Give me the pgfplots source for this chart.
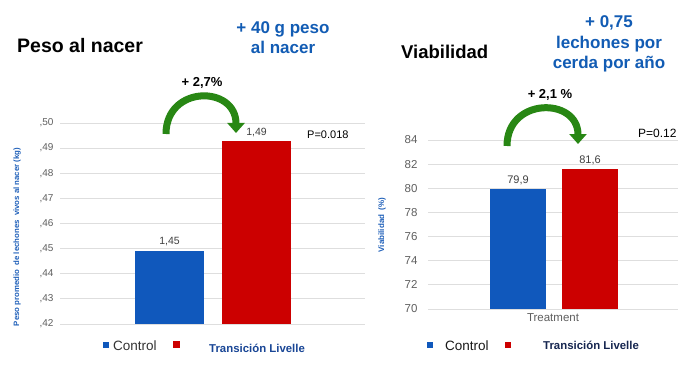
\documentclass[border=0pt]{standalone}
\usepackage{pgfplots}
\pgfplotsset{compat=1.18}
\usepackage{fontspec}
\setmainfont{Liberation Sans}
\usetikzlibrary{arrows.meta}
\definecolor{barblue}{RGB}{16,88,188}
\definecolor{barred}{RGB}{204,0,0}
\definecolor{titleblue}{RGB}{18,92,180}
\definecolor{labblue}{RGB}{30,95,185}
\definecolor{legblue}{RGB}{25,70,150}
\definecolor{legnavy}{RGB}{22,38,80}
\definecolor{arrgreen}{RGB}{40,135,20}
\definecolor{tickgray}{RGB}{95,95,95}
\definecolor{gridgray}{RGB}{222,222,222}
\newcommand\fs[1]{\fontsize{#1}{#1}\selectfont}
\begin{document}
\begin{tikzpicture}[x=1pt,y=1pt]
\fill[white] (0,0) rectangle (700,370);
% ---------- left chart ----------
\begin{axis}[
  at={(60pt,46pt)}, anchor=south west,
  scale only axis, width=305pt, height=201pt,
  xmin=60, xmax=365, ymin=0.42, ymax=0.50,
  axis line style={draw=none},
  ymajorgrids, grid style={gridgray, line width=0.8pt},
  ytick={0.42,0.43,0.44,0.45,0.46,0.47,0.48,0.49,0.50},
  yticklabels={{,42},{,43},{,44},{,45},{,46},{,47},{,48},{,49},{,50}},
  yticklabel style={font=\fs{10}, text=tickgray, xshift=-3pt},
  /pgf/number format/assume math mode=true,
  xtick=\empty, major tick length=0pt,
  ybar, bar width=69pt, bar shift=0pt,
  nodes near coords, point meta=explicit symbolic,
  nodes near coords style={font=\fs{10.5}, text=black!75, yshift=1pt},
  clip=false,
]
\addplot[fill=barblue, draw=none] coordinates {(169.5,0.4492) [1,45]};
\addplot[fill=barred, draw=none] coordinates {(256.5,0.4928) [1,49]};
\end{axis}
% ---------- right chart ----------
\begin{axis}[
  at={(428pt,61pt)}, anchor=south west,
  scale only axis, width=250pt, height=169pt,
  xmin=428, xmax=678, ymin=70, ymax=84,
  axis line style={draw=none},
  ymajorgrids, grid style={gridgray, line width=0.8pt},
  ytick={70,72,74,76,78,80,82,84},
  yticklabel style={font=\fs{11.5}, text=tickgray, xshift=-7pt},
  /pgf/number format/assume math mode=true,
  xtick=\empty, major tick length=0pt,
  xlabel={Treatment},
  xlabel style={font=\fs{11.5}, text=tickgray, at={(axis description cs:0.5,0)}, anchor=north, yshift=-1pt},
  ybar, bar width=56pt, bar shift=0pt,
  nodes near coords, point meta=explicit symbolic,
  nodes near coords style={font=\fs{11}, text=black!75, yshift=1pt},
  clip=false,
]
\addplot[fill=barblue, draw=none] coordinates {(518,79.9) [79,9]};
\addplot[fill=barred, draw=none] coordinates {(590,81.6) [81,6]};
\end{axis}
% ---------- titles ----------
\node[anchor=base west, inner sep=0pt, font=\bfseries\fs{19.5}] at (17,317) {Peso al nacer};
\node[anchor=base west, inner sep=0pt, font=\bfseries\fs{18.5}] at (401,311) {Viabilidad};
\node[anchor=base, inner sep=0pt, font=\bfseries\fs{17}, text=titleblue] at (283,336) {+ 40 g peso};
\node[anchor=base, inner sep=0pt, font=\bfseries\fs{17}, text=titleblue] at (283,316) {al nacer};
\node[anchor=base, inner sep=0pt, font=\bfseries\fs{17}, text=titleblue] at (609,342) {+ 0,75};
\node[anchor=base, inner sep=0pt, font=\bfseries\fs{17}, text=titleblue] at (609,321) {lechones por};
\node[anchor=base, inner sep=0pt, font=\bfseries\fs{17}, text=titleblue] at (609,301) {cerda por año};
% ---------- annotations ----------
\node[anchor=base, inner sep=0pt, font=\bfseries\fs{13}] at (202,283) {+ 2,7\%};
\node[anchor=base, inner sep=0pt, font=\bfseries\fs{13}] at (550,271) {+ 2,1 \%};
\node[anchor=base west, inner sep=0pt, font=\fs{11}] at (307,232) {P=0.018};
\node[anchor=base west, inner sep=0pt, font=\fs{12}] at (638,233) {P=0.12};
\draw[line width=7pt, arrgreen, -{Triangle[width=17pt,length=10pt]}]
  (166,236) .. controls (166,285) and (236,285) .. (236,237);
\draw[line width=7pt, arrgreen, -{Triangle[width=17pt,length=10pt]}]
  (507,224) .. controls (507,273) and (578,273) .. (578,226);
% ---------- y labels ----------
\node[rotate=90, inner sep=0pt, font=\bfseries\fs{7.8}, text=labblue] at (17,133) {Peso promedio\ \ de lechones\ \ vivos al nacer (kg)};
\node[rotate=90, inner sep=0pt, font=\bfseries\fs{8}, text=labblue] at (382,145) {Viabilidad\ \ (\%)};
% ---------- legends ----------
\fill[barblue] (103,22) rectangle (109,28);
\node[anchor=base west, inner sep=0pt, font=\fs{13.5}, text=black!80] at (113,20) {Control};
\fill[barred] (173,22) rectangle (180,29);
\node[anchor=base west, inner sep=0pt, font=\bfseries\fs{11.4}, text=legblue] at (209,18) {Transición Livelle};
\fill[barblue] (427,22) rectangle (433,28);
\node[anchor=base west, inner sep=0pt, font=\fs{13.5}, text=black!90] at (445,20) {Control};
\fill[barred] (505,22) rectangle (511,28);
\node[anchor=base west, inner sep=0pt, font=\bfseries\fs{11.4}, text=legnavy] at (543,21) {Transición Livelle};
\end{tikzpicture}
\end{document}
